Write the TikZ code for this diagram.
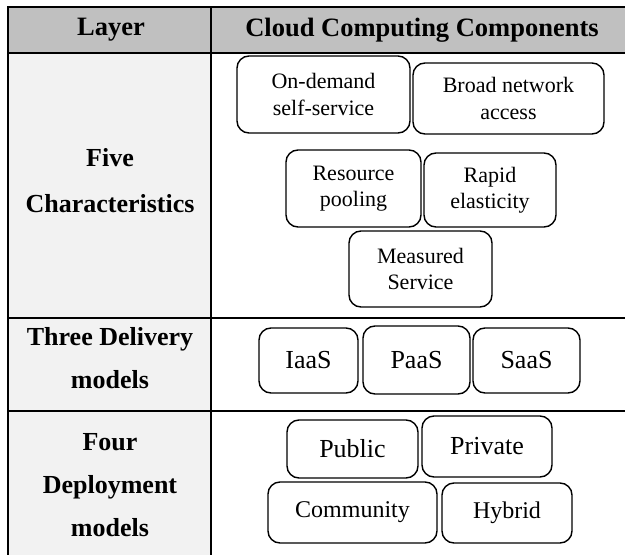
\documentclass[tikz,border=0pt]{standalone}
\usepackage{fontspec}
\setmainfont{Liberation Serif}
\begin{document}
\begin{tikzpicture}[x=1pt,y=-1pt,
  comp/.style={draw, rounded corners=12pt, line width=1.4pt, inner sep=0pt, align=center, font=\fontsize{22}{26.5}\selectfont},
  compbig/.style={comp, font=\fontsize{26}{30}\selectfont},
  layer/.style={align=center, inner sep=0pt},
  hdr/.style={font=\bfseries\fontsize{26.5}{30}\selectfont, inner sep=0pt},
  gridline/.style={line width=2pt, line cap=rect}]
\useasboundingbox (0,0) rectangle (625,555);
% fills
\fill[fill={rgb,255:red,192;green,192;blue,192}] (8,7) rectangle (626,53);
\fill[fill={rgb,255:red,242;green,242;blue,242}] (8,53) rectangle (211,556);
% grid
\draw[gridline] (8,7) -- (626,7);
\draw[gridline] (8,53) -- (626,53);
\draw[gridline] (8,318) -- (626,318);
\draw[gridline] (8,411) -- (626,411);
\draw[gridline] (8,7) -- (8,556);
\draw[gridline] (211,7) -- (211,556);
% headers
\node[hdr] (hlayer) at (111,30) {Layer};
\node[hdr] (hcomp) at (422,30) {Cloud Computing Components};
% layer labels
\node[layer, font=\bfseries\fontsize{26}{46}\selectfont] (five) at (110,181) {Five\\Characteristics};
\node[layer, font=\bfseries\fontsize{26}{43}\selectfont] (three) at (110,358) {Three Delivery\\models};
\node[layer, font=\bfseries\fontsize{26}{43}\selectfont] (four) at (110,485) {Four\\Deployment\\models};
% five characteristics
\node[comp, minimum width=173pt, minimum height=77pt] (od) at (323.5,94.5) {On-demand\\self-service};
\node[comp, minimum width=191pt, minimum height=71pt] (bn) at (508.5,98.5) {Broad network\\access};
\node[comp, minimum width=135pt, minimum height=77pt] (rp) at (353.5,188.5) {Resource\\pooling};
\node[comp, minimum width=132pt, minimum height=74pt] (re) at (490,190) {Rapid\\elasticity};
\node[comp, minimum width=143pt, minimum height=76pt] (ms) at (420.5,269) {Measured\\Service};
% delivery models
\node[compbig, minimum width=99pt, minimum height=65pt] (iaas) at (308.5,360.5) {IaaS};
\node[compbig, minimum width=107pt, minimum height=68pt] (paas) at (416.5,360) {PaaS};
\node[compbig, minimum width=107pt, minimum height=65pt] (saas) at (526.5,360.5) {SaaS};
% deployment models
\node[compbig, minimum width=131pt, minimum height=58pt] (pub) at (352.5,449) {Public};
\node[compbig, minimum width=130pt, minimum height=61pt] (pri) at (487,446.5) {Private};
\node[comp, font=\fontsize{24}{28}\selectfont, minimum width=169pt, minimum height=61pt] (com) at (352.5,512.5) {Community};
\node[comp, font=\fontsize{24}{28}\selectfont, minimum width=130pt, minimum height=60pt] (hyb) at (507,513) {Hybrid};
\end{tikzpicture}
\end{document}
